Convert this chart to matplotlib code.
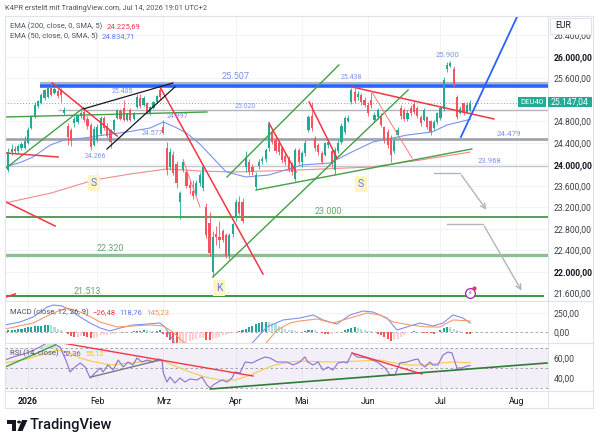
import numpy as np
import matplotlib
matplotlib.use('Agg')
from matplotlib import pyplot as plt
from matplotlib.patches import Rectangle, Polygon, Circle
from matplotlib.lines import Line2D

plt.rcParams['font.family'] = ['Roboto', 'DejaVu Sans']

W, H = 600, 444

# ---- candles (bar index 0 = 2 Jan 2026) ----
first_bar = -6
opens = [23900, 24220, 24280, 24250, 24300, 24310, 24400, 24680, 24880, 25080,
         25140, 25230, 25250, 25420, 25330, 25360, 25380, 24960, 24720, 24640,
         24760, 24780, 24900, 24980, 24850, 24730, 24350, 24450, 24560, 24860,
         24720, 24640, 24640, 24860, 24990, 25040, 24830, 25010, 24850, 25060,
         25240, 25100, 25140, 24960, 25040, 25160, 25380, 24690, 24300, 23950,
         24170, 24000, 23300, 23900, 23850, 23620, 23500, 23450, 23650, 23550,
         23200, 22900, 22000, 22700, 22650, 22750, 22680, 22300, 22700, 23000,
         23300, 23300, 23950, 24050, 23950, 23570, 23960, 24060, 24100, 24300,
         24580, 24450, 24400, 24300, 24150, 24100, 24000, 23720, 24270, 24050,
         24200, 24640, 24900, 24480, 24350, 24200, 24180, 24350, 24250, 23900,
         24250, 24420, 24600, 24800, 25160, 25350, 25250, 25280, 25200, 25100,
         25200, 24830, 24880, 24880, 24700, 24600, 24480, 24250, 24550, 25050,
         25000, 24850, 25050, 25120, 25040, 24880, 24830, 24870, 24800, 24680,
         24780, 24860, 25020, 25780, 25830, 25780, 25250, 24950, 25130, 24980,
         25010]
highs = [24300, 24380, 24340, 24380, 24420, 24520, 24700, 24920, 25150, 25200,
         25320, 25400, 25460, 25520, 25430, 25400, 25410, 25060, 24760, 24680,
         24900, 24940, 25000, 25040, 24900, 24760, 24720, 24750, 24900, 24900,
         24760, 24660, 24840, 25030, 25020, 25200, 24960, 25050, 24980, 25300,
         25300, 25260, 25160, 25080, 25180, 25280, 25440, 24820, 24420, 24300,
         24250, 24060, 23500, 24100, 23900, 23700, 23700, 23700, 23850, 24000,
         23280, 23120, 22750, 22850, 22950, 22800, 22720, 22720, 22900, 23350,
         23400, 23380, 24250, 24100, 24000, 23850, 24100, 24150, 24300, 24780,
         24650, 24550, 24450, 24330, 24200, 24150, 24050, 24300, 24300, 24250,
         24450, 24920, 25150, 24520, 24400, 24250, 24420, 24460, 24300, 24320,
         24450, 24760, 24900, 24920, 25420, 25420, 25360, 25320, 25250, 25150,
         25350, 24980, 25050, 24950, 24720, 24650, 24550, 24480, 24700, 25100,
         25050, 25000, 25100, 25180, 25080, 24920, 25050, 24900, 24830, 24830,
         24980, 25080, 25620, 25900, 25920, 25820, 25280, 25080, 25160, 25150,
         25190]
lows = [23850, 24180, 24200, 24200, 24260, 24280, 24380, 24650, 24860, 25050,
        25120, 25200, 25230, 25260, 25300, 25230, 25150, 24920, 24360, 24330,
        24700, 24750, 24860, 24780, 24650, 24266, 24330, 24420, 24540, 24640,
        24480, 24300, 24600, 24840, 24820, 24800, 24800, 24800, 24820, 25040,
        25050, 25080, 24940, 24920, 25020, 25140, 25200, 24560, 23800, 23900,
        23800, 23550, 22980, 23850, 23550, 23450, 23350, 23400, 23600, 23500,
        22620, 22300, 21900, 22500, 22450, 22550, 22250, 22230, 22650, 22950,
        23050, 22900, 23850, 23800, 23800, 23520, 23920, 24000, 24050, 24250,
        24380, 24200, 24180, 24030, 23980, 23850, 23800, 23680, 24000, 23950,
        24150, 24600, 24620, 24250, 24180, 24000, 24150, 24300, 23950, 23800,
        24200, 24380, 24560, 24780, 25120, 25140, 25200, 25100, 25060, 24900,
        25050, 24780, 24850, 24700, 24400, 24300, 24050, 24200, 24500, 24850,
        24800, 24800, 24900, 24930, 24860, 24720, 24800, 24650, 24550, 24640,
        24750, 24830, 24990, 25720, 25800, 25430, 24850, 24930, 24920, 24950,
        24980]
closes = [24220, 24290, 24250, 24330, 24380, 24440, 24640, 24880, 25100, 25170,
          25290, 25380, 25420, 25290, 25400, 25260, 25280, 25010, 24500, 24440,
          24850, 24900, 24950, 24820, 24720, 24320, 24660, 24690, 24860, 24680,
          24520, 24420, 24820, 25000, 24840, 24830, 24950, 24830, 24960, 25250,
          25080, 25230, 24970, 25060, 25160, 25260, 25250, 24590, 23900, 24230,
          23840, 23650, 23470, 24050, 23600, 23550, 23400, 23650, 23800, 23950,
          22680, 22350, 22650, 22640, 22600, 22600, 22300, 22680, 22880, 23300,
          23100, 22950, 24130, 23850, 23850, 23800, 24050, 24100, 24260, 24750,
          24420, 24250, 24230, 24080, 24050, 23900, 23850, 24270, 24050, 24200,
          24400, 24880, 24680, 24300, 24230, 24050, 24400, 24420, 24000, 24260,
          24400, 24720, 24860, 24860, 25380, 25180, 25300, 25150, 25100, 24950,
          25100, 24920, 25000, 24730, 24450, 24360, 24170, 24430, 24640, 24900,
          24850, 24950, 24950, 24970, 24900, 24770, 25000, 24700, 24600, 24780,
          24950, 25050, 25570, 25850, 25880, 25460, 24880, 25020, 24960, 25100,
          25147.04]

# moving averages, read at visible vertices (bar, value)
sma200_bar = [-7, 7, 20, 31, 42, 52, 63, 82, 104, 119, 134]
sma200_val = [23279, 23465, 23707, 23818, 23912, 23874, 23856, 23893, 23949, 24079, 24225.69]
sma50_bar = [-7, -2, 1.5, 6.7, 11, 17, 23, 30, 37, 41, 44.5, 48, 52, 56, 60, 66,
             73, 83, 91.5, 97.5, 104.5, 115, 122.5, 127, 134]
sma50_val = [23949, 24042, 24135, 24358, 24451, 24488, 24544, 24600, 24674, 24786,
             24693, 24581, 24380, 24120, 23860, 23763, 23800, 23986, 24023, 24209,
             24414, 24544, 24600, 24730, 24834.71]

# horizontal levels and trendlines (drawings)
level_grey_hi = 25516
level_blue = 25455
level_last = 25147.04
level_025020 = 25009
level_024479 = 24475
level_023968 = 23973
level_023000 = 23018
level_022320 = 22311
level_021513 = 21549

green_lines = [((-6.7, 16.7), (23930, 25046)), ((-6.7, 54.2), (24879, 24972)),
               ((56, 115.2), (21903, 25381)), ((60.3, 94.2), (23763, 25846)),
               ((69.1, 134.5), (23521, 24284))]
red_lines = [((7.3, 27), (25511, 24525)), ((40, 71.2), (25437, 21959)),
             ((73, 81.2), (24767, 23856)), ((85.2, 93.6), (25158, 24116)),
             ((98.2, 141.2), (25437, 24842)), ((-6.7, 9.1), (24209, 24135)),
             ((-6.7, 8.2), (23298, 22851)), ((-6.7, -3.9), (21531, 21587))]
thin_red_lines = [((47, 52.1), (24079, 23205)), ((104.2, 116.4), (25344, 24116))]
black_lines = [((16.7, 43.9), (25028, 25511)), ((23.9, 44.5), (24284, 25437))]
blue_line = ((131.2, 148.2), (24507, 26739))
arrow_a = ((123, 130.9, 139.4), (23837, 23837, 23112))
arrow_b = ((127, 137.9, 150), (22889, 22889, 21605))

blue_notes = [("25.405", 28.5, 25362, 5), ("25.438", 97.9, 25604, 5),
              ("25.020", 65.8, 25083, 5), ("24.997", 45.2, 24879, 5),
              ("24.577", 37.6, 24563, 5), ("24.266", 20.3, 24135, 5),
              ("25.900", 127.3, 26032, 5.6), ("24.479", 145.8, 24563, 5.8),
              ("23.968", 140, 24060, 5.6), ("25.507", 63, 25641, 6.6)]
green_notes = [("23.000", 90.9, 23112), ("22.320", 24.8, 22424), ("21.513", 17.9, 21642)]
letter_notes = [("S", 20, 23651), ("S", 100.9, 23632), ("K", 57.9, 21698)]

# ---- MACD ----
macd_hist = [20, 25, 30, 35, 40, 50, 60, 70, 75, 80, 85, 88, 92, 90, 70, 45, 20, 5,
             -30, -55, -65, -60, -50, -55, -70, -85, -75, -60, -45, -40, -35, -30,
             -20, -12, -10, -8, -5, -3, 8, 12, 18, 22, 20, 15, 12, 18, 20, -20, -60,
             -110, -150, -170, -170, -160, -140, -120, -100, -90, -85, -85, -100,
             -110, -95, -75, -60, -45, -35, -25, -15, 5, 15, 20, 40, 60, 80, 100,
             115, 125, 135, 130, 115, 100, 80, 60, 45, 30, 20, 10, 5, 5, 15, 25, 30,
             25, 5, -15, -25, -30, -25, -15, 0, 5, 20, 40, 55, 60, 50, 35, 20, 12, 8,
             3, -20, -45, -70, -95, -115, -110, -90, -60, -35, -15, 5, 8, 3, -3, -8,
             -12, -18, -20, -12, 20, 55, 70, 65, 45, 25, 10, 3, -20, -26.48]
macd_bar = [-7, -2.4, 1.5, 5.8, 7.6, 10.3, 12.7, 15.8, 18.8, 21.8, 24.8, 27.9, 31.8,
            36.1, 40, 41.5, 43.9, 46, 48, 53, 60, 66, 68.2, 72.4, 77.3, 82.4, 86.4,
            89.4, 93.6, 97.6, 101.5, 104.5, 108.8, 111.8, 114.8, 118.8, 122.7, 125.8,
            128.8, 131.8, 134]
macd_val = [92, 132, 197, 329, 355, 342, 289, 197, 118, 53, 13, 53, 92, 105, 118, 66,
            -105, -260, -340, -420, -400, -250, -132, 66, 158, 184, 224, 158, 105, 224,
            276, 263, 184, 26, 66, 118, 79, 118, 224, 184, 118.76]
signal_bar = [-7, 1.5, 7.6, 11.8, 16.7, 21.8, 27, 31.8, 37, 40.9, 43.9, 47, 54, 62,
              68, 72.4, 75.5, 79.4, 82.4, 87.6, 92.4, 97.6, 102.7, 106.7, 110.6,
              115.8, 120.9, 124.8, 128.8, 134]
signal_val = [39, 118, 250, 316, 250, 132, 66, 79, 92, 79, 0, -132, -280, -380, -300,
              -132, 26, 118, 145, 171, 118, 184, 250, 224, 132, 92, 66, 66, 158, 145.23]

# ---- RSI ----
rsi_bar = [-7, -4.5, -0.3, 3.6, 5.8, 7.6, 9.7, 11.8, 12.7, 14.2, 15.8, 17.3, 18.8,
           20.3, 21.8, 22.7, 24.2, 25.8, 27.3, 28.8, 30.3, 31.8, 33, 34.5, 36.1,
           37.9, 39.4, 40.6, 41, 42.1, 43, 44.5, 46, 47.6, 49, 51.2, 52.7, 54.2,
           55.2, 56.1, 57.6, 58.8, 60.3, 61.8, 62.7, 64.2, 65.8, 67.9, 69.7, 71.8,
           73.3, 75.5, 78.5, 80.3, 82.4, 83.9, 84.8, 86.4, 87.9, 89.4, 90.9, 92.4,
           93.9, 95.5, 96.7, 98.2, 99.7, 102.7, 105.8, 108.2, 109.7, 111.2, 112.7,
           114.8, 116.7, 118.2, 118.8, 120.3, 121.8, 122.7, 124.2, 125.8, 127.3,
           128.5, 130, 131.5, 133, 134]
rsi_val = [58, 61, 65, 71, 75.5, 75, 71, 55, 46, 51, 55, 51, 40, 45, 50, 46, 53, 48,
           58, 51, 56, 53, 60, 56, 58, 56, 59, 58, 45, 36, 41, 35, 40, 36, 39, 38, 41,
           33, 30, 33, 36, 38, 36, 40, 46, 45, 56, 55, 58, 61, 60, 56, 56, 53, 56, 61,
           56, 53, 56, 48, 51, 48, 55, 56, 55, 65, 61, 60, 56, 50, 43, 43, 55, 56, 58,
           59, 55, 51, 56, 53, 53, 63, 66, 65, 50, 50, 52, 52.36]
rsima_bar = [-7, -0.3, 5.8, 8.8, 11.8, 15.8, 18.8, 25, 31, 37, 40.9, 44.5, 49,
             53.6, 58.2, 62.7, 66.7, 70.9, 74.8, 79.4, 82.4, 91.5, 100.6, 106.7,
             111.2, 115.8, 120.3, 124.8, 129.4, 134]
rsima_val = [55, 59, 65, 68, 66, 60, 57, 53, 55, 57, 57, 52, 46, 41, 38, 38, 42, 48,
             53, 56, 57, 56, 57, 58, 55, 53, 53, 55, 56, 55.12]
rsi_green_line = ((55.2, 157.3), (29, 55))
rsi_red_lines = [((10.3, 68.2), (75, 42)), ((98.2, 119.4), (65, 44))]
rsi_other_lines = [((-6.7, 8.2), (51.3, 73), '#43a047'), ((19.1, 40), (41, 58), '#787b86')]

month_pos = [0, 21, 41, 63, 83, 103, 125, 148]
month_lbl = ['2026', 'Feb', 'Mrz', 'Apr', 'Mai', 'Jun', 'Jul', 'Aug']
price_ticks = [21600, 22000, 22400, 22800, 23200, 23600, 24000, 24400, 24800,
               25600, 26000, 26400]

UP = '#22ab94'
DN = '#f7525f'
GRN = '#43a047'
RED = '#f23645'
NOTE = '#7d95ea'
GRID = '#f2f3f7'
FRAME = '#e0e3eb'
TXT = '#131722'
LEG = '#50535e'


def rect(x0, y0, x1, y1):
    return [x0 / W, 1 - y1 / H, (x1 - x0) / W, (y1 - y0) / H]


def de_num(v):
    s = f"{v:,.2f}"
    return s.replace(',', 'X').replace('.', ',').replace('X', '.')


def fig_text(x, y, s, **kw):
    kw.setdefault('fontsize', 5.5)
    kw.setdefault('va', 'center')
    return fig.text(x / W, 1 - y / H, s, **kw)


def legend_row(x, y, parts, gap=4):
    # parts: list of (text, colour); each part placed right after the previous one
    renderer = fig.canvas.get_renderer()
    for s, col in parts:
        t = fig_text(x, y, s, color=col)
        x = t.get_window_extent(renderer=renderer).x1 + gap


def fig_box(x0, y0, x1, y1, **kw):
    fig.add_artist(Rectangle((x0 / W, 1 - y1 / H), (x1 - x0) / W, (y1 - y0) / H,
                             transform=fig.transFigure, **kw))


def fig_line(x0, y0, x1, y1, color=FRAME, lw=0.8):
    fig.add_artist(Line2D([x0 / W, x1 / W], [1 - y0 / H, 1 - y1 / H],
                          transform=fig.transFigure, color=color, lw=lw))


fig = plt.figure(figsize=(6, 4.44), dpi=100)
fig.patch.set_facecolor('white')

ax = fig.add_axes(rect(5, 16, 548, 300))
ax_macd = fig.add_axes(rect(5, 300, 548, 343))
ax_rsi = fig.add_axes(rect(5, 343, 548, 391))

for a in (ax, ax_macd, ax_rsi):
    a.set_xlim(-7, 157.6)
    for sp in a.spines.values():
        sp.set_visible(False)
    a.yaxis.tick_right()
    a.tick_params(axis='y', length=0, pad=4, labelsize=6.2, labelcolor='#3b3f4a')
    a.tick_params(axis='x', length=0)
    for m in month_pos:
        a.axvline(m, color=GRID, lw=0.7, zorder=0)
ax.set_xticks([])
ax_macd.set_xticks([])

# ---- main pane ----
ax.set_ylim(21475, 26757)
ax.set_yticks(price_ticks)
ax.set_yticklabels([de_num(v) for v in price_ticks])
for v, lab in zip(price_ticks, ax.get_yticklabels()):
    if v % 2000 == 0:
        lab.set_fontweight('bold')
        lab.set_color(TXT)
for v in price_ticks + [25200]:
    ax.axhline(v, color=GRID, lw=0.7, zorder=0)

xr = (-7, 157.6)
ax.hlines(level_grey_hi, 3.6, xr[1], color='#b2b5be', lw=1.6, zorder=2)
ax.hlines(level_blue, 3.6, xr[1], color='#2962ff', lw=2.6, zorder=2)
ax.hlines(level_last, xr[0], xr[1], color='#9598a1', lw=0.7, ls=(0, (1, 2)), zorder=2)
ax.hlines(level_025020, 9, xr[1], color='#b2b5be', lw=1.0, zorder=2)
ax.hlines(level_024479, xr[0], xr[1], color='#a3a6af', lw=2.0, zorder=2)
ax.hlines(level_023968, xr[0], xr[1], color='#c3c6cf', lw=1.0, zorder=2)
ax.hlines(level_023000, xr[0], xr[1], color='#388e3c', lw=1.2, zorder=2)
ax.hlines(level_022320, xr[0], xr[1], color='#8fbf91', lw=2.4, zorder=2)
ax.hlines(level_021513, xr[0], 156.5, color='#2e8b35', lw=1.3, zorder=2)

ax.plot(sma200_bar, sma200_val, color='#f28b8b', lw=0.8, zorder=2.5)
ax.plot(sma50_bar, sma50_val, color='#7b93ee', lw=0.8, zorder=2.5)

bars = np.arange(first_bar, first_bar + len(closes))
o = np.array(opens, float)
c = np.array(closes, float)
cols = np.where(c >= o, UP, DN)
ax.vlines(bars, lows, highs, colors=cols, lw=0.6, zorder=3)
ax.bar(bars, np.maximum(np.abs(c - o), 10), bottom=np.minimum(o, c), width=0.66,
       color=cols, linewidth=0, zorder=3)

for (xs, ys) in green_lines:
    ax.plot(xs, ys, color=GRN, lw=1.0, zorder=4)
for (xs, ys) in red_lines:
    ax.plot(xs, ys, color=RED, lw=1.1, zorder=4)
for (xs, ys) in thin_red_lines:
    ax.plot(xs, ys, color='#f77c80', lw=0.7, zorder=4)
for (xs, ys) in black_lines:
    ax.plot(xs, ys, color='#131722', lw=0.9, zorder=4)
ax.plot(*blue_line, color='#2962ff', lw=1.3, zorder=4)
for (xs, ys) in (arrow_a, arrow_b):
    ax.plot(xs[:2], ys[:2], color='#b2b5be', lw=1.0, zorder=4)
    ax.annotate('', xy=(xs[2], ys[2]), xytext=(xs[1], ys[1]),
                arrowprops=dict(arrowstyle='->', color='#b2b5be', lw=1.0,
                                mutation_scale=9), zorder=4)

for s, xi, p, fs in blue_notes:
    ax.text(xi, p, s, color=NOTE, fontsize=fs, ha='center', va='center', zorder=5)
for s, xi, p in green_notes:
    ax.text(xi, p, s, color='#6aa56d', fontsize=6.4, ha='center', va='center', zorder=5)
for s, xi, p in letter_notes:
    ax.text(xi, p, s, color='#5a7de8', fontsize=7.5, ha='center', va='center', zorder=5,
            bbox=dict(boxstyle='square,pad=0.25', fc='#fff4c2', ec='none'))

ax.plot([134], [21605], marker='o', ms=7, mfc='white', mec='#9c27b0', mew=0.9, zorder=6)
ax.text(134, 21605, '\u26a1', color='#9c27b0', fontsize=4.5, ha='center', va='center',
        family=['DejaVu Sans'], zorder=7)
ax.plot([135.2], [21690], marker='o', ms=2, color='#f23645', zorder=7)

# ---- MACD pane ----
ax_macd.set_ylim(-145, 421)
ax_macd.set_yticks([0, 250])
ax_macd.set_yticklabels(['0,00', '250,00'])
ax_macd.axhline(0, color='#9598a1', lw=0.6, ls=(0, (3, 3)), zorder=1)
ax_macd.axhline(250, color=GRID, lw=0.7, zorder=0)
hv = np.array(macd_hist, float)
prev = np.concatenate([[hv[0]], hv[:-1]])
hcol = np.where(hv >= 0, np.where(hv >= prev, '#26a69a', '#b2dfdb'),
                np.where(hv < prev, '#ff5252', '#ffcdd2'))
ax_macd.bar(bars, hv, width=0.62, color=hcol, linewidth=0, zorder=2)
ax_macd.plot(macd_bar, macd_val, color='#7b93ee', lw=0.8, zorder=3)
ax_macd.plot(signal_bar, signal_val, color='#f79a6b', lw=0.8, zorder=3)

# ---- RSI pane ----
ax_rsi.set_ylim(27, 75)
ax_rsi.set_yticks([40, 60])
ax_rsi.set_yticklabels(['40,00', '60,00'])
ax_rsi.axhspan(30, 70, color='#7e57c2', alpha=0.09, lw=0, zorder=0)
for lvl in (30, 50, 70):
    ax_rsi.axhline(lvl, color='#9598a1', lw=0.6, ls=(0, (3, 3)), zorder=1)
rb = np.array(rsi_bar, float)
rv = np.array(rsi_val, float)
ax_rsi.fill_between(rb, rv, 70, where=rv > 70, color='#a5d6a7', alpha=0.5, lw=0,
                    interpolate=True, zorder=1)
ax_rsi.plot(rsima_bar, rsima_val, color='#f7c948', lw=0.8, zorder=2)
ax_rsi.plot(rb, rv, color='#8c6fd1', lw=0.8, zorder=3)
ax_rsi.plot(*rsi_green_line, color='#2e7d32', lw=1.2, zorder=4)
for (xs, ys) in rsi_red_lines:
    ax_rsi.plot(xs, ys, color=RED, lw=1.0, zorder=4)
for (xs, ys, col) in rsi_other_lines:
    ax_rsi.plot(xs, ys, color=col, lw=1.0, zorder=4)

ax_rsi.set_xticks(month_pos)
ax_rsi.set_xticklabels(month_lbl, fontsize=6.3, color=TXT)
ax_rsi.tick_params(axis='x', pad=4)
ax_rsi.get_xticklabels()[0].set_fontweight('bold')

# ---- frame ----
fig_line(5, 16, 593, 16)
fig_line(5, 16, 5, 408)
fig_line(593, 16, 593, 408)
fig_line(5, 408, 593, 408)
fig_line(548, 16, 548, 408)
fig_line(5, 300.5, 593, 300.5)
fig_line(5, 343, 593, 343)
fig_line(5, 391, 593, 391)

# ---- labels & legends ----
fig_text(5, 9, 'K4PR erstellt mit TradingView.com, Jul 14, 2026 19:01 UTC+2', color=LEG,
         fontsize=5.3)
legend_row(10, 26, [('EMA (200, close, 0, SMA, 5)', LEG), ('24.225,69', '#f23645')])
legend_row(10, 36, [('EMA (50, close, 0, SMA, 5)', LEG), ('24.834,71', '#5b7cf0')])
legend_row(10, 312, [('MACD (close, 12, 26, 9)', LEG), ('\u221226,48', '#f23645'),
                     ('118,76', '#5b7cf0'), ('145,23', '#f7925a')])
legend_row(10, 353, [('RSI (14, close)', LEG), ('52,36', '#7e57c2'), ('55,12', '#f2c230')])

fig_box(550, 18, 591, 34, fc='white', ec=FRAME, lw=0.8, zorder=10)
fig_text(555, 26, 'EUR', color=TXT, fontsize=6.2, zorder=11)
fig_box(518, 97.5, 546, 107.5, fc='#22ab94', ec='none', zorder=10)
fig_text(532, 102.5, 'DEU40', color='white', fontsize=5.6, ha='center', zorder=11)
fig_box(548, 97.5, 592, 107.5, fc='#22ab94', ec='none', zorder=10)
fig_text(551, 102.5, de_num(level_last), color='white', fontsize=6.2, zorder=11)

# TradingView logo
fig.add_artist(Polygon([(7 / W, 1 - 420 / H), (16 / W, 1 - 420 / H), (16 / W, 1 - 431 / H),
                        (12 / W, 1 - 431 / H), (12 / W, 1 - 424 / H), (7 / W, 1 - 424 / H)],
                       closed=True, transform=fig.transFigure, fc=TXT, ec='none'))
fig.add_artist(Circle((19 / W, 1 - 422 / H), 1.9 / W, transform=fig.transFigure,
                      fc=TXT, ec='none'))
fig.add_artist(Polygon([(22 / W, 1 - 420 / H), (27.5 / W, 1 - 420 / H), (22.5 / W, 1 - 431 / H),
                        (17.5 / W, 1 - 431 / H)], closed=True, transform=fig.transFigure,
                       fc=TXT, ec='none'))
fig_text(30, 425, 'TradingView', color=TXT, fontsize=10.5, fontweight='medium')

fig.savefig('out.png', dpi=100, facecolor='white')
